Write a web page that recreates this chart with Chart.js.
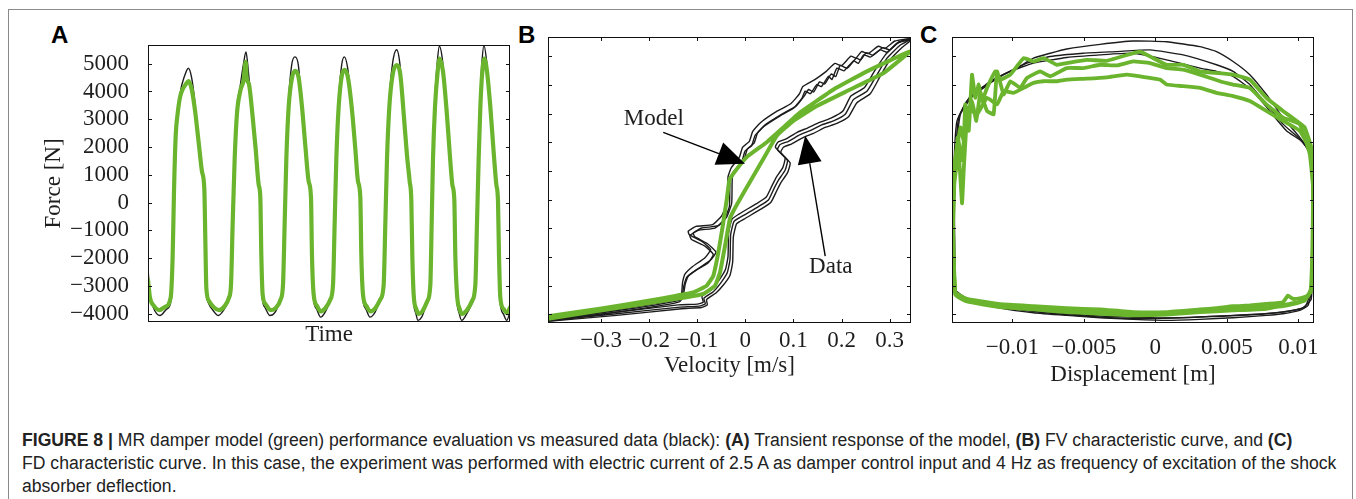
<!DOCTYPE html>
<html><head><meta charset="utf-8">
<script src="https://cdn.jsdelivr.net/npm/chart.js@4.4.1/dist/chart.umd.min.js"></script>
<style>
html,body{margin:0;padding:0;background:#fff;width:1356px;height:499px;overflow:hidden;}
#frame{position:absolute;left:8px;top:9px;width:1343px;height:520px;border:1px solid #8a8a8a;border-bottom:none;}
canvas{position:absolute;}
.lbl{position:absolute;font-family:"Liberation Sans",Arial,sans-serif;font-weight:bold;font-size:24px;line-height:24px;color:#000;}
#caption{position:absolute;left:22px;top:429px;font-family:"Liberation Sans",Arial,sans-serif;font-size:17.6px;line-height:23.2px;color:#222;white-space:nowrap;}
</style></head><body>
<div id="frame"></div>
<div class="lbl" style="left:51px;top:23px">A</div>
<div class="lbl" style="left:518px;top:23px">B</div>
<div class="lbl" style="left:920px;top:23px">C</div>
<canvas id="cA" width="500" height="340" style="left:20px;top:20px"></canvas>
<canvas id="cB" width="400" height="370" style="left:530px;top:20px"></canvas>
<canvas id="cC" width="405" height="380" style="left:935px;top:20px"></canvas>
<div id="caption">
<div><b>FIGURE 8</b> <b>|</b> MR damper model (green) performance evaluation vs measured data (black): <b>(A)</b> Transient response of the model, <b>(B)</b> FV characteristic curve, and <b>(C)</b></div>
<div>FD characteristic curve. In this case, the experiment was performed with electric current of 2.5 A as damper control input and 4 Hz as frequency of excitation of the shock</div>
<div>absorber deflection.</div>
</div>
<script>
// ---------- tick values ----------
const forceTicks = [-4000,-3000,-2000,-1000,0,1000,2000,3000,4000,5000];
const velocityTicks = [-0.3,-0.2,-0.1,0,0.1,0.2,0.3];
const displacementTicks = [-0.01,-0.005,0,0.005,0.01];

// ---------- A: time [s], force [N] ----------
const aData = [[0,-2380],[0.0097,-3312],[0.0258,-3778],[0.0581,-4068],[0.0903,-3836],[0.1145,-3370],[0.1226,-1333],[0.1306,995],[0.1387,2742],[0.1548,3906],[0.1790,4604],[0.1952,4837],[0.2113,4488],[0.2274,3557],[0.2435,2160],[0.2597,1112],[0.2710,530],[0.2758,-1333],[0.2806,-3079],[0.2919,-3603],[0.3161,-3894],[0.3403,-4068],[0.3645,-3894],[0.3887,-3545],[0.4000,-3079],[0.4081,-751],[0.4177,1577],[0.4290,3324],[0.4452,4139],[0.4613,4953],[0.4742,5419],[0.4855,4721],[0.5016,3324],[0.5177,2043],[0.5339,646],[0.5419,180],[0.5468,-1915],[0.5532,-3423],[0.5661,-3778],[0.5903,-4068],[0.6145,-3952],[0.6387,-3545],[0.6516,-3079],[0.6597,-751],[0.6677,1577],[0.6790,3557],[0.6952,4953],[0.7113,5244],[0.7274,4953],[0.7435,3557],[0.7597,2043],[0.7758,762],[0.7871,180],[0.7919,-1915],[0.8000,-3423],[0.8161,-3836],[0.8355,-4126],[0.8565,-3952],[0.8806,-3545],[0.8935,-3079],[0.9016,-751],[0.9097,1577],[0.9210,3557],[0.9371,4953],[0.9500,5244],[0.9661,4837],[0.9855,3441],[1.0016,1927],[1.0145,762],[1.0258,180],[1.0306,-1915],[1.0387,-3423],[1.0548,-3836],[1.0742,-4126],[1.0984,-3952],[1.1226,-3545],[1.1387,-3079],[1.1468,-751],[1.1548,1577],[1.1661,3557],[1.1823,4953],[1.2032,5500],[1.2194,4953],[1.2355,3324],[1.2516,1810],[1.2645,762],[1.2726,64],[1.2774,-1915],[1.2839,-3423],[1.2968,-4010],[1.3065,-4243],[1.3242,-4126],[1.3484,-3661],[1.3645,-3079],[1.3710,-751],[1.3774,1577],[1.3871,3557],[1.4000,5070],[1.4097,5629],[1.4258,5070],[1.4419,3557],[1.4581,1810],[1.4710,646],[1.4806,64],[1.4855,-1915],[1.4935,-3423],[1.5065,-4010],[1.5177,-4243],[1.5419,-4010],[1.5661,-3661],[1.5823,-3079],[1.5903,-751],[1.5984,1577],[1.6065,3557],[1.6161,5070],[1.6258,5652],[1.6387,5070],[1.6548,3557],[1.6710,1810],[1.6839,646],[1.6919,64],[1.6968,-1915],[1.7032,-3545],[1.7194,-4010],[1.7355,-4243],[1.7516,-3952]];
const aModel = [[0,-2788],[0.0097,-3423],[0.0290,-3720],[0.0548,-3870],[0.0823,-3755],[0.1097,-3423],[0.1194,-1915],[0.1258,413],[0.1339,2393],[0.1435,3208],[0.1548,3790],[0.1677,4080],[0.1823,4255],[0.1968,4371],[0.2113,4080],[0.2274,3324],[0.2452,2160],[0.2613,1112],[0.2726,472],[0.2774,-1333],[0.2823,-3079],[0.2952,-3545],[0.3194,-3778],[0.3435,-3870],[0.3677,-3755],[0.3919,-3423],[0.4016,-2963],[0.4097,-751],[0.4194,1577],[0.4306,3208],[0.4468,4022],[0.4629,4429],[0.4726,5070],[0.4774,4488],[0.4887,4255],[0.5048,3208],[0.5210,1927],[0.5355,646],[0.5435,180],[0.5484,-1915],[0.5548,-3312],[0.5694,-3661],[0.5935,-3870],[0.6177,-3800],[0.6419,-3487],[0.6532,-2963],[0.6613,-751],[0.6694,1577],[0.6806,3441],[0.6968,4488],[0.7129,4744],[0.7290,4488],[0.7452,3441],[0.7613,2043],[0.7774,762],[0.7887,180],[0.7935,-1915],[0.8016,-3312],[0.8177,-3720],[0.8371,-3917],[0.8581,-3800],[0.8823,-3487],[0.8952,-2963],[0.9032,-751],[0.9113,1577],[0.9226,3441],[0.9387,4604],[0.9516,4779],[0.9677,4488],[0.9871,3324],[1.0032,1927],[1.0161,762],[1.0274,180],[1.0323,-1915],[1.0403,-3312],[1.0565,-3720],[1.0758,-3917],[1.1000,-3800],[1.1242,-3487],[1.1403,-2963],[1.1484,-751],[1.1565,1577],[1.1677,3441],[1.1839,4604],[1.2032,4953],[1.2210,4604],[1.2371,3208],[1.2532,1694],[1.2661,762],[1.2742,64],[1.2790,-1915],[1.2855,-3312],[1.2984,-3836],[1.3097,-4010],[1.3274,-3917],[1.3516,-3545],[1.3661,-2963],[1.3726,-751],[1.3790,1577],[1.3887,3441],[1.4016,4721],[1.4113,5186],[1.4274,4721],[1.4435,3441],[1.4597,1810],[1.4726,646],[1.4823,64],[1.4871,-1915],[1.4952,-3312],[1.5081,-3836],[1.5194,-4010],[1.5435,-3870],[1.5677,-3545],[1.5839,-2963],[1.5919,-751],[1.6000,1577],[1.6081,3441],[1.6177,4721],[1.6274,5186],[1.6403,4721],[1.6565,3441],[1.6726,1810],[1.6855,646],[1.6935,64],[1.6984,-1915],[1.7048,-3423],[1.7210,-3836],[1.7371,-3987],[1.7516,-3778]];

// ---------- B: velocity [m/s], force [N] ----------
const bData1 = [[-0.4104,-4207],[-0.2681,-3919],[-0.1361,-3551],[-0.1278,-2999],[-0.1222,-2711],[-0.1049,-2481],[-0.0771,-2193],[-0.0667,-1906],[-0.0840,-1618],[-0.1118,-1388],[-0.1153,-1250],[-0.0979,-1066],[-0.0632,-986],[-0.0444,-697],[-0.0333,-237],[-0.0319,684],[-0.0250,972],[-0.0076,1317],[-0.0007,1697],[0.0132,1892],[0.0201,2238],[0.0375,2548],[0.0722,2928],[0.1000,3192],[0.1174,3537],[0.1243,3790],[0.1350,3700],[0.1486,4021],[0.1580,3950],[0.1729,4309],[0.1800,4200],[0.1903,4596],[0.2050,4500],[0.2250,4849],[0.2350,4760],[0.2458,5057],[0.2600,4980],[0.2806,5230],[0.2950,5150],[0.3153,5460],[0.3444,5609],[0.3222,5402],[0.2944,4942],[0.2736,4366],[0.2528,3790],[0.2250,3503],[0.2076,2986],[0.1833,2755],[0.1590,2617],[0.1347,2410],[0.1139,2272],[0.0896,2042],[0.0722,1927],[0.0667,1743],[0.0875,1374],[0.0826,1029],[0.0688,684],[0.0597,396],[0.0479,-7],[0.0271,-237],[-0.0076,-582],[-0.0236,-755],[-0.0306,-1215],[-0.0319,-2078],[-0.0375,-2538],[-0.0514,-2907],[-0.0667,-3206],[-0.0861,-3436],[-0.0833,-3632],[-0.0958,-3712],[-0.1361,-3747],[-0.2681,-3976],[-0.4104,-4230]];
const bData2 = [[-0.4104,-4172],[-0.2681,-3873],[-0.1326,-3482],[-0.1250,-2941],[-0.1181,-2654],[-0.0979,-2400],[-0.0722,-2101],[-0.0611,-1825],[-0.0792,-1526],[-0.1049,-1296],[-0.1083,-1158],[-0.0910,-985],[-0.0563,-905],[-0.0389,-605],[-0.0285,-122],[-0.0271,776],[-0.0194,1052],[-0.0028,1398],[0.0042,1777],[0.0181,1973],[0.0250,2318],[0.0431,2640],[0.0778,3008],[0.1056,3273],[0.1222,3618],[0.1313,3848],[0.1420,3760],[0.1542,4113],[0.1650,4040],[0.1785,4389],[0.1880,4300],[0.1972,4688],[0.2120,4590],[0.2306,4941],[0.2400,4880],[0.2514,5136],[0.2650,5050],[0.2861,5309],[0.3000,5230],[0.3194,5517],[0.3444,5575],[0.3257,5310],[0.2993,4850],[0.2785,4251],[0.2597,3699],[0.2319,3388],[0.2146,2894],[0.1903,2663],[0.1660,2525],[0.1417,2318],[0.1208,2180],[0.0965,1950],[0.0792,1835],[0.0736,1651],[0.0931,1282],[0.0875,937],[0.0736,592],[0.0653,316],[0.0528,-98],[0.0319,-329],[-0.0028,-674],[-0.0181,-835],[-0.0250,-1295],[-0.0264,-2170],[-0.0319,-2630],[-0.0458,-2976],[-0.0611,-3252],[-0.0806,-3482],[-0.0792,-3666],[-0.0910,-3758],[-0.1326,-3804],[-0.2681,-4034],[-0.4104,-4241]];
const bData3 = [[-0.4104,-4195],[-0.1361,-3459],[-0.1306,-2884],[-0.1257,-2596],[-0.1097,-2331],[-0.0840,-2020],[-0.0722,-1733],[-0.0910,-1445],[-0.1167,-1215],[-0.1188,-1100],[-0.1028,-927],[-0.0681,-870],[-0.0493,-559],[-0.0375,-99],[-0.0361,799],[-0.0292,1121],[-0.0125,1489],[-0.0056,1834],[0.0083,2042],[0.0153,2387],[0.0319,2698],[0.0667,3100],[0.0944,3353],[0.1125,3699],[0.1194,3952],[0.1444,4194],[0.1681,4481],[0.1861,4757],[0.2000,4680],[0.2194,5010],[0.2300,4950],[0.2417,5172],[0.2550,5100],[0.2764,5356],[0.2900,5280],[0.3111,5540],[0.3444,5632],[0.3188,5494],[0.2910,5057],[0.2681,4481],[0.2472,3906],[0.2194,3618],[0.2028,3100],[0.1778,2847],[0.1542,2698],[0.1292,2502],[0.1083,2364],[0.0847,2122],[0.0674,2007],[0.0625,1834],[0.0826,1466],[0.0778,1121],[0.0639,776],[0.0549,477],[0.0431,85],[0.0222,-145],[-0.0125,-490],[-0.0278,-674],[-0.0347,-1134],[-0.0361,-1985],[-0.0417,-2446],[-0.0556,-2826],[-0.0708,-3137],[-0.0903,-3367],[-0.0875,-3574],[-0.1000,-3643],[-0.1396,-3666],[-0.4104,-4218]];
const bModel = [[-0.4104,-4069],[-0.3028,-3804],[-0.1986,-3517],[-0.1431,-3344],[-0.1083,-3229],[-0.0806,-2999],[-0.0667,-2653],[-0.0563,-1848],[-0.0472,-927],[-0.0389,-7],[-0.0333,684],[-0.0250,914],[0.0028,1489],[0.0444,2007],[0.0792,2525],[0.1139,3049],[0.1833,3848],[0.2528,4481],[0.3417,5172],[0.2875,4423],[0.2181,3848],[0.1486,3273],[0.1000,2755],[0.0653,2238],[0.0375,1432],[0.0097,626],[-0.0181,-179],[-0.0319,-640],[-0.0424,-1617],[-0.0528,-2538],[-0.0632,-2999],[-0.0875,-3286],[-0.1222,-3402],[-0.2333,-3689],[-0.4104,-4149]];

// ---------- C: displacement [m], force [N] ----------
const cData1 = [[-0.01410,-3229],[-0.01415,-697],[-0.01405,1604],[-0.01387,2755],[-0.01317,3445],[-0.01201,3905],[-0.01084,4308],[-0.00968,4596],[-0.00852,4941],[-0.00735,5114],[-0.00619,5263],[-0.00386,5424],[-0.00154,5539],[0.00079,5516],[0.00312,5344],[0.00428,5171],[0.00544,4826],[0.00661,4366],[0.00777,3675],[0.00893,2870],[0.01010,2179],[0.01080,1662],[0.01103,1144],[0.01103,-697],[0.01098,-2999],[0.01068,-3689],[0.01010,-3862],[0.00893,-3977],[0.00777,-4034],[0.00544,-4115],[0.00312,-4172],[0.00079,-4207],[-0.00154,-4172],[-0.00386,-4115],[-0.00619,-4034],[-0.00852,-3942],[-0.01084,-3781],[-0.01317,-3517],[-0.01387,-3344],[-0.01410,-3229]];
const cData2 = [[-0.01398,-3171],[-0.01405,-697],[-0.01398,1374],[-0.01375,2870],[-0.01294,3618],[-0.01177,4021],[-0.01061,4366],[-0.00898,4769],[-0.00735,4999],[-0.00503,5114],[-0.00270,5171],[-0.00037,5229],[0.00195,5056],[0.00428,4711],[0.00544,4481],[0.00661,4021],[0.00777,3330],[0.00893,2640],[0.01010,2122],[0.01084,1604],[0.01098,-697],[0.01084,-3229],[0.01045,-3747],[0.00893,-3919],[0.00544,-4034],[0.00079,-4126],[-0.00386,-4057],[-0.00852,-3862],[-0.01084,-3712],[-0.01317,-3459],[-0.01398,-3171]];
const cData3 = [[-0.01405,-3206],[-0.01410,-697],[-0.01391,1834],[-0.01363,2985],[-0.01270,3675],[-0.01154,4136],[-0.01014,4481],[-0.00852,4769],[-0.00619,4964],[-0.00386,5056],[-0.00154,5114],[0.00079,4884],[0.00312,4596],[0.00428,4481],[0.00544,4308],[0.00684,3790],[0.00800,3100],[0.00917,2410],[0.01033,2007],[0.01091,1489],[0.01103,-697],[0.01091,-3459],[0.01021,-3804],[0.00777,-3977],[0.00312,-4092],[-0.00154,-4149],[-0.00619,-4011],[-0.00968,-3827],[-0.01201,-3632],[-0.01363,-3344],[-0.01405,-3206]];
const cModel1 = [[-0.01415,-1848],[-0.01417,-697],[-0.01410,1029],[-0.01387,1834],[-0.01363,2525],[-0.01340,2064],[-0.01329,3330],[-0.01305,2410],[-0.01282,4366],[-0.01259,3560],[-0.01235,4021],[-0.01212,3445],[-0.01177,3905],[-0.01119,4481],[-0.01084,4193],[-0.01014,4366],[-0.00921,4941],[-0.00852,4826],[-0.00782,4941],[-0.00689,4711],[-0.00619,4769],[-0.00479,4884],[-0.00340,4849],[-0.00154,5114],[-0.00107,5171],[-0.00014,4941],[0.00079,4711],[0.00195,4711],[0.00312,4481],[0.00544,4366],[0.00661,4193],[0.00777,3560],[0.00893,3100],[0.00987,2755],[0.01045,2525],[0.01091,1834],[0.01108,1029],[0.01103,-697],[0.01098,-2999],[0.01068,-3344],[0.01010,-3436],[0.00963,-3459],[0.00928,-3344],[0.00893,-3574],[0.00777,-3632],[0.00661,-3689],[0.00544,-3712],[0.00428,-3781],[0.00312,-3827],[0.00079,-3919],[-0.00154,-3919],[-0.00386,-3827],[-0.00619,-3781],[-0.00852,-3712],[-0.01084,-3643],[-0.01317,-3459],[-0.01398,-3229],[-0.01415,-1848]];
const cModel2 = [[-0.01417,-1273],[-0.01410,453],[-0.01375,1604],[-0.01352,-122],[-0.01340,1029],[-0.01317,2870],[-0.01282,3445],[-0.01252,2755],[-0.01224,3733],[-0.01177,3100],[-0.01131,2985],[-0.01107,4481],[-0.01061,3675],[-0.01014,4136],[-0.00945,3905],[-0.00898,4251],[-0.00805,4481],[-0.00735,4308],[-0.00619,4596],[-0.00503,4596],[-0.00386,4711],[-0.00270,4688],[-0.00154,4826],[-0.00037,4769],[0.00079,4596],[0.00195,4538],[0.00312,4366],[0.00451,4136],[0.00544,4021],[0.00661,3905],[0.00777,3330],[0.00893,2870],[0.01010,2640],[0.01080,1604],[0.01103,453],[0.01098,-1848],[0.01084,-3229],[0.01010,-3574],[0.00893,-3712],[0.00777,-3747],[0.00544,-3804],[0.00312,-3896],[0.00079,-3977],[-0.00154,-3977],[-0.00386,-3919],[-0.00619,-3862],[-0.00852,-3804],[-0.01084,-3712],[-0.01317,-3517],[-0.01398,-3286],[-0.01417,-1273]];
const cModel3 = [[-0.01415,-927],[-0.01405,684],[-0.01382,2179],[-0.01352,1374],[-0.01317,3215],[-0.01247,2985],[-0.01177,3560],[-0.01107,3330],[-0.01061,3790],[-0.00991,3733],[-0.00921,3905],[-0.00852,4078],[-0.00782,4136],[-0.00689,4136],[-0.00619,4193],[-0.00479,4228],[-0.00340,4274],[-0.00200,4366],[-0.00107,4308],[0.00033,4193],[0.00079,4021],[0.00195,3963],[0.00312,3905],[0.00428,3733],[0.00544,3618],[0.00661,3445],[0.00777,3100],[0.00893,2755],[0.01010,2410],[0.01084,1719],[0.01103,799],[0.01103,-1848],[0.01094,-3114],[0.01045,-3517],[0.00940,-3632],[0.00777,-3804],[0.00544,-3862],[0.00312,-3919],[0.00079,-4011],[-0.00154,-4034],[-0.00386,-3977],[-0.00619,-3919],[-0.00852,-3827],[-0.01084,-3747],[-0.01317,-3551],[-0.01398,-3321],[-0.01415,-927]];

// ---------- annotations of panel B (data coordinates) ----------
const bAnnotations = [
  {text:'Model', at:[-0.1903,2807], from:[-0.1708,2353], to:[-0.0007,1260]},
  {text:'Data',  at:[0.1776,-2337], from:[0.1660,-1963], to:[0.1243,2238]}
];

// ---------- rendering ----------
const GREEN = '#6ab42e', BLACK = '#1c1c1c', TEXT = '#1e1e1e';
const SERIF = '"Liberation Serif", "Times New Roman", serif';
const fmt = v => String(Math.round(v*100000)/100000).replace('-', '\u2212');
const toXY = arr => arr.map(p => ({x:p[0], y:p[1]}));

function framePlugin(cfg){
  return {
    id:'frameTicks',
    afterDatasetsDraw(chart){
      const {ctx, chartArea:a, scales:{x,y}} = chart;
      ctx.save();
      ctx.strokeStyle = '#111'; ctx.lineWidth = 1;
      ctx.strokeRect(Math.round(a.left)+0.5, Math.round(a.top)+0.5, Math.round(a.right-a.left)-1, Math.round(a.bottom-a.top)-1);
      ctx.beginPath();
      const L = 4;
      (cfg.yTicks||[]).forEach(v => {
        const py = Math.round(y.getPixelForValue(v))+0.5;
        ctx.moveTo(a.left, py); ctx.lineTo(a.left+L, py);
        ctx.moveTo(a.right, py); ctx.lineTo(a.right-L, py);
      });
      (cfg.xTicks||[]).forEach(v => {
        const px = Math.round(x.getPixelForValue(v))+0.5;
        ctx.moveTo(px, a.bottom); ctx.lineTo(px, a.bottom-L);
        ctx.moveTo(px, a.top); ctx.lineTo(px, a.top+L);
      });
      ctx.stroke();
      (cfg.arrows||[]).forEach(ar => {
        const p0 = {x:x.getPixelForValue(ar.from[0]), y:y.getPixelForValue(ar.from[1])};
        const p1 = {x:x.getPixelForValue(ar.to[0]), y:y.getPixelForValue(ar.to[1])};
        const ang = Math.atan2(p1.y-p0.y, p1.x-p0.x);
        const len = 28, hw = 12;
        const bx = p1.x - len*Math.cos(ang), by = p1.y - len*Math.sin(ang);
        ctx.strokeStyle = '#000'; ctx.lineWidth = 1.4;
        ctx.beginPath(); ctx.moveTo(p0.x, p0.y); ctx.lineTo(bx, by); ctx.stroke();
        ctx.fillStyle = '#000';
        ctx.beginPath();
        ctx.moveTo(p1.x, p1.y);
        ctx.lineTo(bx + hw*Math.sin(ang), by - hw*Math.cos(ang));
        ctx.lineTo(bx - hw*Math.sin(ang), by + hw*Math.cos(ang));
        ctx.closePath(); ctx.fill();
        ctx.font = '23px ' + SERIF; ctx.fillStyle = TEXT;
        ctx.textAlign = 'center'; ctx.textBaseline = 'middle';
        ctx.fillText(ar.text, x.getPixelForValue(ar.at[0]), y.getPixelForValue(ar.at[1]));
      });
      ctx.restore();
    }
  };
}

function ds(arr, color, width, tension, order, mono){
  const d = {data:toXY(arr), borderColor:color, borderWidth:width, pointRadius:0, fill:false, order:order, tension:tension, borderJoinStyle:'round', borderCapStyle:'round'};
  if (mono) d.cubicInterpolationMode = 'monotone';
  return d;
}

function baseOptions(padding, xScale, yScale){
  return {
    responsive:false, animation:false, events:[],
    layout:{padding:padding},
    plugins:{legend:{display:false}, tooltip:{enabled:false}},
    scales:{x:xScale, y:yScale}
  };
}
const titleFont = {family:SERIF, size:23};
const tickFont = {family:SERIF, size:23};

// Panel A
new Chart(document.getElementById('cA'), {
  type:'line',
  data:{datasets:[ds(aModel, GREEN, 4.2, 0, 0, true), ds(aData, BLACK, 1.4, 0, 1, true)]},
  options: baseOptions({left:0, top:16, right:10, bottom:0},
    {type:'linear', min:0, max:1.7516, ticks:{display:false}, grid:{display:false}, border:{display:false},
     title:{display:true, text:'Time', font:titleFont, color:TEXT, padding:{top:0, bottom:11}},
     afterFit(s){ s.height = 38; }},
    {type:'linear', min:-4300, max:5680,
     afterBuildTicks(s){ s.ticks = forceTicks.map(v => ({value:v})); },
     ticks:{font:tickFont, color:TEXT, padding:11, callback:v => fmt(v)},
     grid:{display:false}, border:{display:false},
     title:{display:true, text:'Force [N]', font:titleFont, color:TEXT, padding:{top:20, bottom:0}},
     afterFit(s){ s.width = 128; }}),
  plugins:[framePlugin({yTicks:forceTicks})]
});

// Panel B
new Chart(document.getElementById('cB'), {
  type:'line',
  data:{datasets:[
    ds(bModel, GREEN, 4, 0.1, 0, false),
    ds(bData1, BLACK, 1.4, 0.15, 1, false),
    ds(bData2, BLACK, 1.4, 0.15, 1, false),
    ds(bData3, BLACK, 1.4, 0.15, 1, false)
  ]},
  options: baseOptions({left:0, top:17, right:19, bottom:0},
    {type:'linear', min:-0.4104, max:0.3444,
     afterBuildTicks(s){ s.ticks = velocityTicks.map(v => ({value:v})); },
     ticks:{font:tickFont, color:TEXT, padding:-4, autoSkip:false, maxRotation:0, minRotation:0, callback:v => fmt(v)},
     grid:{display:false}, border:{display:false},
     title:{display:true, text:'Velocity [m/s]', font:titleFont, color:TEXT, padding:{top:0, bottom:10}},
     afterFit(s){ s.height = 67; }},
    {type:'linear', min:-4300, max:5680, ticks:{display:false}, grid:{display:false}, border:{display:false},
     afterFit(s){ s.width = 18; }}),
  plugins:[framePlugin({yTicks:forceTicks, xTicks:velocityTicks, arrows:bAnnotations})]
});

// Panel C
new Chart(document.getElementById('cC'), {
  type:'line',
  data:{datasets:[
    ds(cModel1, GREEN, 3.8, 0.1, 0, false),
    ds(cModel2, GREEN, 3.8, 0.1, 0, false),
    ds(cModel3, GREEN, 3.8, 0.1, 0, false),
    ds(cData1, BLACK, 1.4, 0.15, 1, false),
    ds(cData2, BLACK, 1.4, 0.15, 1, false),
    ds(cData3, BLACK, 1.4, 0.15, 1, false)
  ]},
  options: baseOptions({left:0, top:17, right:26, bottom:0},
    {type:'linear', min:-0.01422, max:0.01110,
     afterBuildTicks(s){ s.ticks = displacementTicks.map(v => ({value:v})); },
     ticks:{font:tickFont, color:TEXT, padding:3, autoSkip:false, maxRotation:0, minRotation:0, callback:v => fmt(v)},
     grid:{display:false}, border:{display:false},
     title:{display:true, text:'Displacement [m]', font:titleFont, color:TEXT, padding:{top:0, bottom:11}},
     afterFit(s){ s.height = 77; }},
    {type:'linear', min:-4300, max:5680, ticks:{display:false}, grid:{display:false}, border:{display:false},
     afterFit(s){ s.width = 17; }}),
  plugins:[framePlugin({yTicks:forceTicks, xTicks:displacementTicks})]
});
</script>
</body></html>
